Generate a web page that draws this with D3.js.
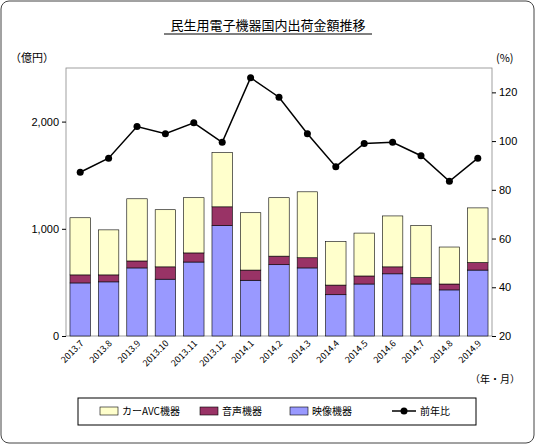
<!DOCTYPE html>
<html><head><meta charset="utf-8">
<script src="https://cdn.jsdelivr.net/npm/d3@7"></script>
<style>body{margin:0;background:#fff;font-family:"Noto Sans CJK JP",sans-serif;}</style>
</head><body><div id="main"></div>
<script>
const W = 536, H = 445;
const months = ["2013.7","2013.8","2013.9","2013.10","2013.11","2013.12","2014.1","2014.2","2014.3","2014.4","2014.5","2014.6","2014.7","2014.8","2014.9"];
const video = [495,505,635,530,690,1030,520,665,635,385,485,580,485,430,615];
const audio = [75,65,65,115,85,175,95,80,95,90,75,65,60,55,70];
const carAvc = [533,420,580,533,515,505,535,545,615,405,400,475,485,345,510];
const yoy = [87.2,93,106,103,107.5,99.5,126,118,103,89.5,99,99.5,94,83.5,93];
const seriesNames = ["カーAVC機器","音声機器","映像機器","前年比"];
const colors = {car:"#FFFFCC", audio:"#993366", video:"#9999FF"};

var svg = d3.select("#main").append("svg").attr("width", W).attr("height", H)
    .style("font-family", "'Noto Sans CJK JP',sans-serif");
svg.append("rect").attr("x",1).attr("y",1).attr("width",W-3).attr("height",H-3)
    .attr("rx",8).attr("fill","#fff").attr("stroke","#444");

var plot = {l:66, r:492, t:68, b:336};
var x = d3.scaleBand().domain(months).range([plot.l, plot.r]).paddingInner(0.28).paddingOuter(0.14);
var yL = d3.scaleLinear().domain([0,2500]).range([plot.b, plot.t]);
var yR = d3.scaleLinear().domain([20,130]).range([plot.b, plot.t]);

svg.append("rect").attr("x",plot.l).attr("y",plot.t).attr("width",plot.r-plot.l).attr("height",plot.b-plot.t)
    .attr("fill","none").attr("stroke","#888").attr("stroke-width",0.8);

svg.append("text").attr("x",W/2).attr("y",30).attr("text-anchor","middle").attr("font-size",13)
    .text("民生用電子機器国内出荷金額推移");
svg.append("line").attr("x1",164).attr("x2",372).attr("y1",34).attr("y2",34).attr("stroke","#000");

var axL = svg.append("g").attr("transform","translate("+plot.l+",0)")
    .call(d3.axisLeft(yL).tickValues([0,1000,2000]).tickSize(4).tickFormat(d3.format(",")));
var axR = svg.append("g").attr("transform","translate("+plot.r+",0)")
    .call(d3.axisRight(yR).tickValues([20,40,60,80,100,120]).tickSize(4));
[axL,axR].forEach(function(a){a.select(".domain").remove(); a.selectAll("text").attr("font-size",11);});

svg.append("text").attr("x",10).attr("y",62).attr("font-size",11).text("（億円）");
svg.append("text").attr("x",496).attr("y",62).attr("font-size",11).text("(%)");
svg.append("text").attr("x",470).attr("y",383).attr("font-size",10).text("（年・月）");

var stacks = months.map(function(m,i){
    return [{v0:0,v1:video[i],c:colors.video},
            {v0:video[i],v1:video[i]+audio[i],c:colors.audio},
            {v0:video[i]+audio[i],v1:video[i]+audio[i]+carAvc[i],c:colors.car}]
        .map(function(s){s.m=m; return s;});
});
svg.append("g").selectAll("g").data(stacks).enter().append("g")
    .selectAll("rect").data(function(d){return d;}).enter().append("rect")
    .attr("x",function(d){return x(d.m);}).attr("width",x.bandwidth())
    .attr("y",function(d){return yL(d.v1);}).attr("height",function(d){return yL(d.v0)-yL(d.v1);})
    .attr("fill",function(d){return d.c;}).attr("stroke","#000").attr("stroke-width",0.6);

var cx = function(m){return x(m)+x.bandwidth()/2;};
svg.append("path").datum(months).attr("fill","none").attr("stroke","#000").attr("stroke-width",1.5)
    .attr("d", d3.line().x(cx).y(function(m,i){return yR(yoy[i]);}));
svg.append("g").selectAll("circle").data(months).enter().append("circle")
    .attr("cx",cx).attr("cy",function(m,i){return yR(yoy[i]);}).attr("r",3.5).attr("fill","#000");

svg.append("g").selectAll("text").data(months).enter().append("text")
    .attr("font-size",9).attr("text-anchor","end")
    .attr("transform",function(m){return "translate("+(cx(m)+4)+","+(plot.b+8)+") rotate(-45)";})
    .text(function(m){return m;});

var lg = svg.append("g");
lg.append("rect").attr("x",78).attr("y",398).attr("width",398).attr("height",27).attr("fill","#fff").attr("stroke","#000");
var lx = [100,200,290,392];
[colors.car,colors.audio,colors.video].forEach(function(c,i){
    lg.append("rect").attr("x",lx[i]).attr("y",407).attr("width",18).attr("height",8).attr("fill",c).attr("stroke","#000").attr("stroke-width",0.6);
});
lg.append("line").attr("x1",lx[3]).attr("x2",lx[3]+24).attr("y1",411).attr("y2",411).attr("stroke","#000").attr("stroke-width",1.5);
lg.append("circle").attr("cx",lx[3]+12).attr("cy",411).attr("r",3.5);
seriesNames.forEach(function(n,i){
    lg.append("text").attr("x",lx[i]+(i==3?28:22)).attr("y",415).attr("font-size",10).text(n);
});
</script></body></html>
